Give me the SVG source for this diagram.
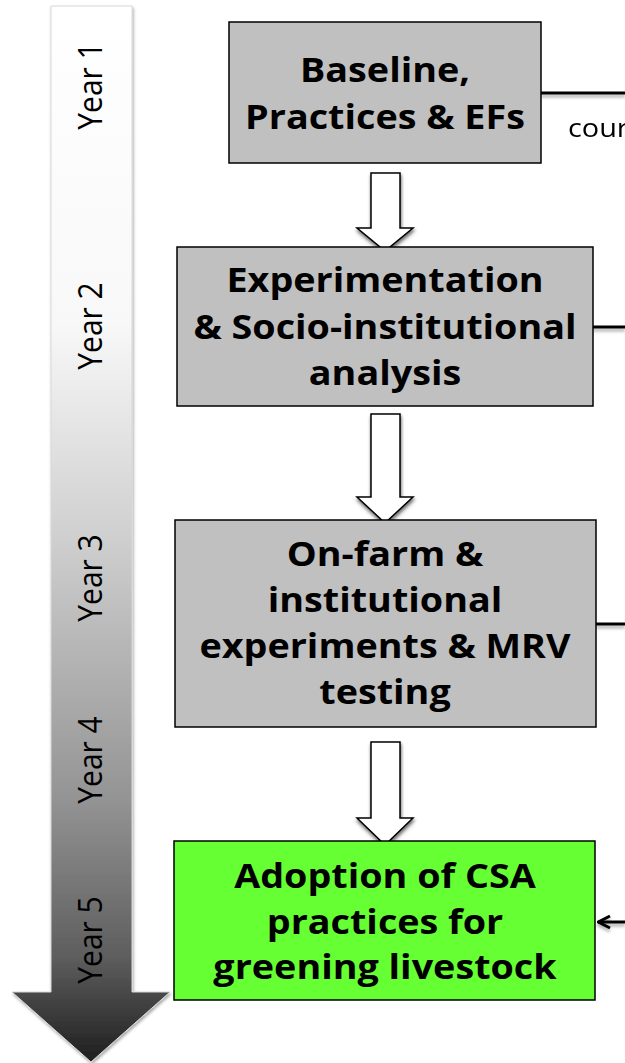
<svg xmlns="http://www.w3.org/2000/svg" width="625" height="1063" viewBox="0 0 625 1063">
<defs>
<linearGradient id="tl" x1="0" y1="6" x2="0" y2="1062" gradientUnits="userSpaceOnUse">
<stop offset="0" stop-color="#ffffff"/>
<stop offset="0.3" stop-color="#f8f8f8"/>
<stop offset="0.5" stop-color="#d0d0d0"/>
<stop offset="0.75" stop-color="#949494"/>
<stop offset="0.9" stop-color="#5e5e5e"/>
<stop offset="1" stop-color="#1e1e1e"/>
</linearGradient>
<filter id="sh" x="-20%" y="-20%" width="140%" height="140%">
<feDropShadow dx="1" dy="2" stdDeviation="1.5" flood-color="#000" flood-opacity="0.35"/>
</filter>
<filter id="lsh" filterUnits="userSpaceOnUse" x="0" y="0" width="625" height="1063">
<feDropShadow dx="0" dy="3" stdDeviation="1.5" flood-color="#000" flood-opacity="0.3"/>
</filter>
<marker id="op" viewBox="0 0 16 16" refX="15" refY="8" markerWidth="16" markerHeight="16" markerUnits="userSpaceOnUse" orient="auto">
<path d="M3,2 L14.5,8 L3,14" fill="none" stroke="#000" stroke-width="3"/>
</marker>
<style>
.box{stroke:#000;stroke-width:1.5}
.grey{fill:#c0c0c0}
.green{fill:#66ff33}
.t{font-family:"Open Sans","Liberation Sans",sans-serif;font-weight:bold;font-size:34px;text-anchor:middle;fill:#000}
.yr{font-family:"Open Sans","Liberation Sans",sans-serif;font-size:30px;text-anchor:middle;fill:#000}
.ha{fill:#fff;stroke:#000;stroke-width:1.5;filter:url(#sh)}
.ln{stroke:#000;stroke-width:3;fill:none}
</style>
</defs>
<g id="timeline">
<path d="M51,6 H132 V992 H170 L91,1062 L12,992 H51 Z" fill="url(#tl)" stroke="#d8d8d8" stroke-width="1" filter="url(#sh)"/>
<text class="yr" transform="translate(102,86) rotate(-90) scale(1,1.11)">Year 1</text>
<text class="yr" transform="translate(102,326) rotate(-90) scale(1,1.11)">Year 2</text>
<text class="yr" transform="translate(102,578) rotate(-90) scale(1,1.11)">Year 3</text>
<text class="yr" transform="translate(102,760) rotate(-90) scale(1,1.11)">Year 4</text>
<text class="yr" transform="translate(102,940) rotate(-90) scale(1,1.11)">Year 5</text>
</g>
<g id="connectors" filter="url(#lsh)">
<path class="ha" d="M371,173 H400 V228 H413 L385,251 L357,228 H371 Z"/>
<path class="ha" d="M371,414 H400 V497 H413 L385,523 L357,497 H371 Z"/>
<path class="ha" d="M371,742 H400 V818 H413 L385,845 L357,818 H371 Z"/>
<path class="ln" d="M541,93 H625"/>
<path class="ln" d="M593,327 H625"/>
<path class="ln" d="M596,624 H625"/>
<path class="ln" d="M625,922 H598" marker-end="url(#op)"/>
</g>
<g id="node1">
<rect class="box grey" x="229" y="22" width="312" height="141"/>
<g transform="translate(385 0) scale(1.11 1)">
<text class="t" x="0" y="82">Baseline,</text>
<text class="t" x="0" y="129">Practices &amp; EFs</text>
</g>
</g>
<g id="label-cour">
<text transform="translate(568 137) scale(1.11 1)" font-family="'Open Sans','Liberation Sans',sans-serif" font-size="26">cour</text>
</g>
<g id="node2">
<rect class="box grey" x="177" y="247" width="416" height="159"/>
<g transform="translate(385 0) scale(1.11 1)">
<text class="t" x="0" y="292">Experimentation</text>
<text class="t" x="0" y="339">&amp; Socio-institutional</text>
<text class="t" x="0" y="385">analysis</text>
</g>
</g>
<g id="node3">
<rect class="box grey" x="175" y="520" width="421" height="207"/>
<g transform="translate(385 0) scale(1.11 1)">
<text class="t" x="0" y="566">On-farm &amp;</text>
<text class="t" x="0" y="612">institutional</text>
<text class="t" x="0" y="658">experiments &amp; MRV</text>
<text class="t" x="0" y="704">testing</text>
</g>
</g>
<g id="node4">
<rect class="box green" x="174" y="841" width="421" height="159"/>
<g transform="translate(385 0) scale(1.11 1)">
<text class="t" x="0" y="888">Adoption of CSA</text>
<text class="t" x="0" y="934">practices for</text>
<text class="t" x="0" y="979">greening livestock</text>
</g>
</g>
</svg>
